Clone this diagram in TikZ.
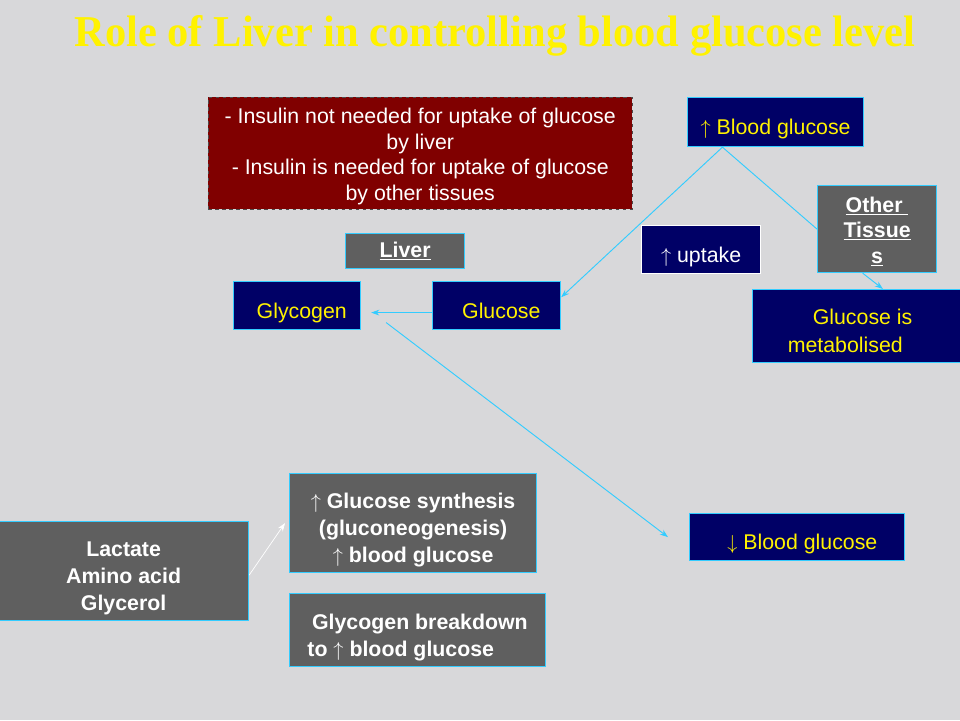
\documentclass[tikz,border=0pt]{standalone}
\usepackage{fontspec}
\setmainfont{Liberation Sans}
\newfontfamily\titlefont{Liberation Serif}
\usetikzlibrary{calc,positioning,arrows.meta}
\definecolor{navy}{RGB}{0,0,102}
\definecolor{slate}{RGB}{95,95,95}
\definecolor{maroon}{RGB}{128,0,0}
\definecolor{skyline}{RGB}{51,204,255}
\definecolor{marble}{RGB}{216,216,218}
\newcommand{\up}{$\uparrow$}
\newcommand{\down}{$\downarrow$}
\newcommand{\lowstrut}{\rule{0pt}{26.4pt}}
\newcommand{\midstrut}{\rule{0pt}{20pt}}

\begin{document}
\begin{tikzpicture}[x=0.03cm,y=-0.03cm,>={Stealth[length=7pt,width=5pt]},
	lowtext/.style={execute at begin node={\lowstrut},execute at end node={\rule[-5pt]{0pt}{5pt}}},
	panel/.style={anchor=north west,inner sep=0pt,align=center,font=\fontsize{18.2}{22}\selectfont},
	box/.style={panel,lowtext},
	navybox/.style={box,fill=navy,draw=skyline,line width=1pt,text=yellow},
	slatebox/.style={fill=slate,draw=skyline,line width=1pt,text=white,font=\fontsize{18.2}{23}\selectfont\bfseries},
	graybox/.style={box,slatebox},
	link/.style={draw=skyline,line width=0.8pt}
	]

	\fill[marble] (0,0) rectangle (960,720);
	\useasboundingbox (0,0) rectangle (960,720);

	\node[anchor=base,text=yellow,font=\titlefont\fontsize{37.6}{40}\selectfont\bfseries] (title) at (495,46) {\scalebox{0.965}[1]{Role of Liver in controlling blood glucose level}};

	\node[box,fill=maroon,draw=black!70,dashed,text=white,minimum width=12.72cm,minimum height=3.36cm] (insulin) at (208,97) {\midstrut- Insulin not needed for uptake of glucose\\by liver\\- Insulin is needed for uptake of glucose\\by other tissues};

	\node[navybox,minimum width=5.28cm,minimum height=1.47cm] (bgup) at (687,97) {\up\ Blood glucose};
	\node[graybox,minimum width=3.57cm,minimum height=2.61cm,font=\fontsize{18.2}{21.5}\selectfont\bfseries] (tissues) at (817,185) {\midstrut\underline{Other\ }\\\underline{Tissue}\\\underline{s}};
	\node[navybox,draw=white,text=white,minimum width=3.57cm,minimum height=1.44cm] (uptake) at (641,225) {\up\ uptake};
	\node[navybox,minimum width=6.3cm,minimum height=2.19cm,font=\fontsize{18.2}{24}\selectfont] (metab) at (752,289) {\lowstrut\hspace*{8.5pt}Glucose is\\metabolised\hspace*{21pt}};

	\node[panel,slatebox,minimum width=3.57cm,minimum height=1.05cm] (liver) at (345,233) {\underline{Liver}};
	\node[navybox,minimum width=3.81cm,minimum height=1.44cm] (glycogen) at (233,281) {\hspace*{8pt}Glycogen};
	\node[navybox,minimum width=3.84cm,minimum height=1.44cm] (glucose) at (432,281) {\hspace*{8pt}Glucose};

	\node[graybox,minimum width=7.41cm,minimum height=2.97cm] (synth) at (289,473) {\lowstrut\up\ Glucose synthesis\\(gluconeogenesis)\\\up\ blood glucose};
	\node[graybox,minimum width=7.5cm,minimum height=2.97cm] (lactate) at (-2,521) {\lowstrut Lactate\\Amino acid\\Glycerol};
	\node[graybox,align=left,minimum width=7.68cm,minimum height=2.19cm] (breakdown) at (289,593) {\lowstrut\hspace*{4pt}Glycogen breakdown\\to \up\ blood glucose};
	\node[navybox,minimum width=6.45cm,minimum height=1.41cm] (bgdown) at (689,513) {\hspace*{9pt}\down\ Blood glucose};

	\coordinate (fork) at ($(bgup.south west)!0.2!(bgup.south east)$);
	\draw[link,->] (fork) -- ($(glucose.north east)!0.33!(glucose.south east)$);
	\draw[link] (fork) -- (tissues.west);
	\draw[link,->] ($(tissues.south west)!0.38!(tissues.south east)$) -- ($(metab.north west)!0.62!(metab.north east)$);
	\draw[link,->] ($(glucose.west)+(0,7)$) -- ($(glycogen.east)+(10,7)$);
	\coordinate (store) at ($(glycogen.east)+(25,17)$);
	\draw[link,->] (store) -- ($(bgdown.west)+(-21,0)$);
	\draw[white,->,line width=0.6pt] ($(lactate.east)+(0,4)$) -- ($(synth.west)+(-4,0)$);

\end{tikzpicture}
\end{document}
